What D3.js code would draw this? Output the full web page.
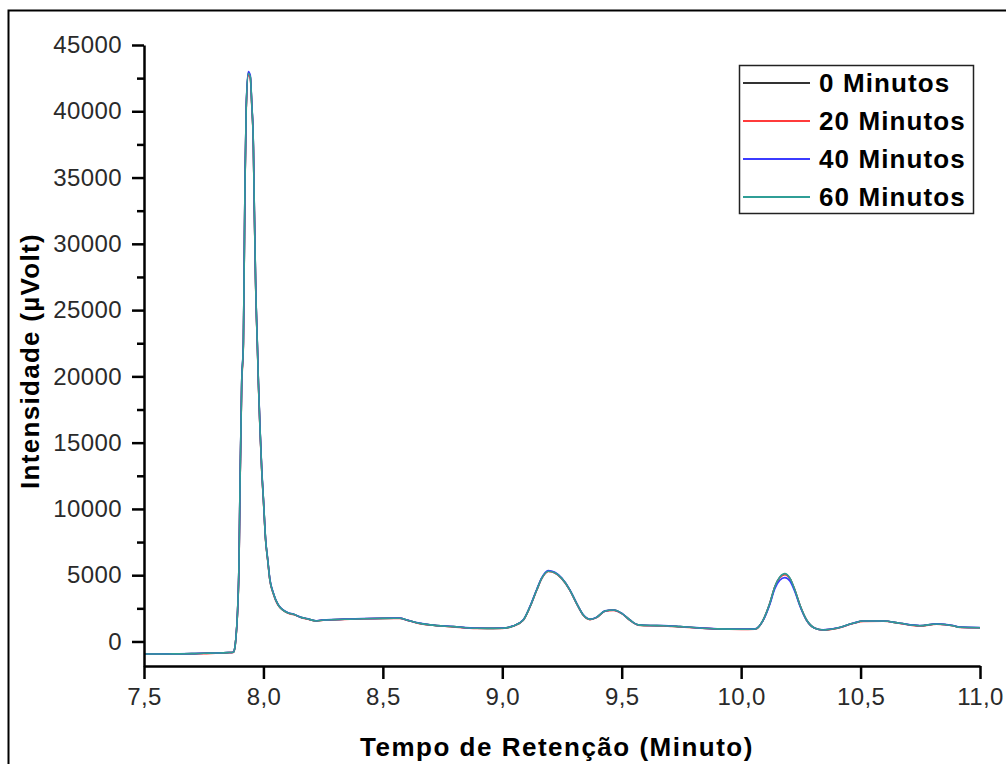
<!DOCTYPE html>
<html>
<head>
<meta charset="utf-8">
<script src="https://cdn.jsdelivr.net/npm/d3@7"></script>
<style>
  html, body { margin: 0; padding: 0; background: #fff; }
  svg { display: block; }
  text { font-family: "Liberation Sans", Arial, sans-serif; }
</style>
</head>
<body>
<svg id="chart" width="1006" height="764"></svg>
<script>
// ---- Data ----
const seriesNames = ["0 Minutos", "20 Minutos", "40 Minutos", "60 Minutos"];
const seriesColors = ["#333333", "#ff3b3b", "#3b3bff", "#2f9e96"];

const xTicks = [7.5, 8.0, 8.5, 9.0, 9.5, 10.0, 10.5, 11.0];
const yTicks = [0, 5000, 10000, 15000, 20000, 25000, 30000, 35000, 40000, 45000];
const yMinorTicks = [2500, 7500, 12500, 17500, 22500, 27500, 32500, 37500, 42500];

const times = [7.50,7.60,7.70,7.75,7.80,7.85,7.874,7.880,7.884,7.892,7.898,7.902,7.909,7.916,7.919,7.923,7.928,7.937,7.945,7.951,
  7.958,7.962,7.967,7.976,7.979,7.986,7.993,8.000,8.009,8.018,8.027,8.041,8.062,8.104,8.125,8.160,8.181,8.223,8.250,8.300,
  8.418,8.500,8.572,8.600,8.641,8.697,8.795,8.893,8.962,9.000,9.046,9.088,9.116,9.144,9.165,9.192,9.220,9.249,9.283,9.311,
  9.339,9.367,9.395,9.430,9.465,9.500,9.534,9.569,9.620,9.674,9.744,9.800,9.900,10.000,10.058,10.092,10.120,10.141,10.162,10.183,
  10.204,10.225,10.246,10.274,10.309,10.343,10.400,10.469,10.511,10.595,10.665,10.748,10.818,10.888,10.916,11.000];

const min0 = [-950,-940,-920,-890,-870,-840,-815,-500,100,2400,6200,11900,19500,22500,27500,34800,40300,42900,42600,40600,
  37300,32500,27300,21500,19500,15900,12900,10700,7700,6150,4650,3650,2750,2150,2050,1800,1720,1550,1620,1650,
  1720,1740,1750,1620,1420,1250,1120,1000,990,1000,1170,1620,2620,3880,4760,5300,5190,4760,3880,2880,
  2000,1670,1820,2300,2370,2120,1620,1250,1200,1190,1120,1050,950,920,940,1620,2880,4130,4840,5070,
  4760,3880,2750,1620,1000,870,1000,1370,1540,1540,1370,1190,1320,1190,1070,1040];

const min20 = [-960,-950,-930,-920,-880,-850,-820,-520,80,2300,6000,11700,19300,22300,27300,34600,40100,42700,42500,40500,
  37200,32400,27200,21400,19400,15800,12800,10600,7650,6100,4600,3620,2720,2130,2030,1790,1700,1540,1610,1640,
  1710,1730,1740,1610,1400,1240,1100,990,980,990,1160,1600,2600,3860,4740,5280,5170,4740,3860,2860,
  1980,1650,1800,2280,2350,2100,1600,1230,1190,1180,1100,1040,940,910,930,1600,2860,4100,4800,5030,
  4730,3850,2730,1600,990,860,990,1350,1520,1530,1360,1170,1300,1180,1060,1030];

const min40 = [-945,-935,-915,-885,-865,-835,-810,-490,110,2420,6250,12000,19600,22600,27600,34900,40400,43000,42700,40700,
  37400,32600,27400,21600,19600,16000,13000,10750,7750,6200,4700,3700,2780,2170,2070,1810,1730,1560,1630,1660,
  1730,1750,1760,1630,1430,1260,1130,1010,1000,1010,1180,1640,2650,3920,4800,5350,5230,4790,3900,2890,
  2010,1680,1830,2310,2380,2130,1630,1260,1210,1200,1130,1060,960,930,950,1590,2800,3980,4620,4820,
  4560,3750,2680,1600,1000,880,1010,1380,1550,1550,1380,1200,1330,1200,1080,1050];

const min60 = [-950,-940,-920,-890,-870,-840,-815,-500,100,2400,6200,11900,19500,22500,27500,34800,40300,42850,42600,40600,
  37300,32500,27300,21500,19500,15900,12900,10700,7700,6150,4650,3650,2750,2150,2050,1800,1720,1550,1620,1650,
  1720,1740,1750,1620,1420,1250,1120,1000,990,1000,1170,1620,2620,3880,4760,5300,5190,4760,3880,2880,
  2000,1670,1820,2300,2370,2120,1620,1250,1200,1190,1120,1050,950,920,940,1620,2880,4130,4860,5120,
  4780,3880,2750,1620,1000,870,1000,1370,1540,1540,1370,1190,1320,1190,1070,1040];

const allSeries = [min0, min20, min40, min60];

// ---- Chart ----
const svg = d3.select("#chart");

// outer frame (extends past the picture on right and bottom)
svg.append("rect")
  .attr("x", 8.5).attr("y", 10.5)
  .attr("width", 1200).attr("height", 1000)
  .attr("fill", "none").attr("stroke", "#000").attr("stroke-width", 2);

const x = d3.scaleLinear().domain([7.5, 11.0]).range([144, 980]);
const y = d3.scaleLinear().domain([-1850, 45000]).range([666, 45]);

// series lines
const line = d3.line()
  .x((d, i) => x(times[i]))
  .y(d => y(d))
  .curve(d3.curveMonotoneX);

svg.append("g").selectAll("path")
  .data(allSeries)
  .join("path")
  .attr("d", d => line(d))
  .attr("fill", "none")
  .attr("stroke", (d, i) => seriesColors[i])
  .attr("stroke-width", 1.6);

// axes
const fmt = d => d3.format(".1f")(d).replace(".", ",");

const xAxis = svg.append("g")
  .attr("transform", "translate(0,666)")
  .call(d3.axisBottom(x).tickValues(xTicks).tickFormat(fmt).tickSize(13).tickPadding(9).tickSizeOuter(0));

const yAxis = svg.append("g")
  .attr("transform", "translate(144,0)")
  .call(d3.axisLeft(y).tickValues(yTicks).tickFormat(d3.format("d")).tickSize(12).tickPadding(10).tickSizeOuter(0));

const yMinor = svg.append("g")
  .attr("transform", "translate(144,0)")
  .call(d3.axisLeft(y).tickValues(yMinorTicks).tickFormat("").tickSize(7).tickSizeOuter(0));
yMinor.select(".domain").remove();

[xAxis, yAxis, yMinor].forEach(g => {
  g.selectAll(".domain").attr("stroke", "#000").attr("stroke-width", 2.5);
  g.selectAll(".tick line").attr("stroke", "#000").attr("stroke-width", 2.5);
  g.selectAll(".tick text")
    .attr("font-family", "'Liberation Sans', Arial, sans-serif")
    .attr("font-size", 24)
    .attr("fill", "#2a2a2a")
    .style("letter-spacing", "0.4px");
});

// axis titles
svg.append("text")
  .attr("x", 557).attr("y", 756)
  .attr("text-anchor", "middle")
  .attr("font-size", 26).attr("font-weight", "bold")
  .style("letter-spacing", "1.5px")
  .attr("fill", "#000")
  .text("Tempo de Retenção (Minuto)");

svg.append("text")
  .attr("transform", "translate(39,361) rotate(-90)")
  .attr("text-anchor", "middle")
  .attr("font-size", 26).attr("font-weight", "bold")
  .style("letter-spacing", "1.3px")
  .attr("fill", "#000")
  .text("Intensidade (µVolt)");

// legend
const legend = svg.append("g");
legend.append("rect")
  .attr("x", 739.5).attr("y", 65.5)
  .attr("width", 234).attr("height", 148)
  .attr("fill", "#fff").attr("stroke", "#222").attr("stroke-width", 1.5);

const legendRows = [83, 121, 159, 197];
seriesNames.forEach((name, i) => {
  legend.append("line")
    .attr("x1", 743).attr("x2", 810)
    .attr("y1", legendRows[i]).attr("y2", legendRows[i])
    .attr("stroke", seriesColors[i]).attr("stroke-width", 2);
  legend.append("text")
    .attr("x", 819).attr("y", legendRows[i])
    .attr("dy", "0.36em")
    .attr("font-size", 26).attr("font-weight", "bold")
    .style("letter-spacing", "1.1px")
    .attr("fill", "#000")
    .text(name);
});
</script>
</body>
</html>
